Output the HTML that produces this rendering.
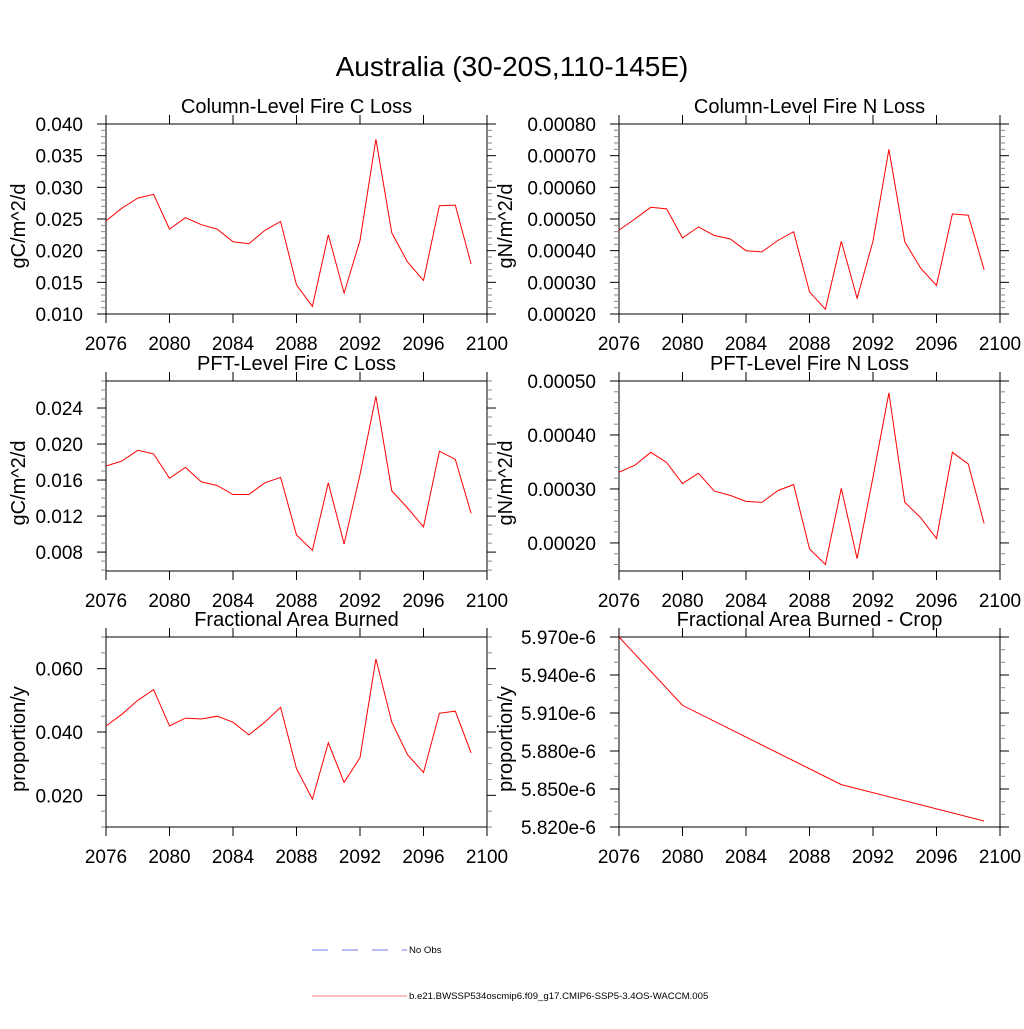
<!DOCTYPE html>
<html><head><meta charset="utf-8"><style>
body{margin:0;background:#fff;}
svg text{font-family:"Liberation Sans",sans-serif;fill:#000;}
</style></head><body>
<svg id="c" width="1024" height="1024" viewBox="0 0 1024 1024" xmlns="http://www.w3.org/2000/svg">
<text x="512" y="76" font-size="28" text-anchor="middle">Australia (30-20S,110-145E)</text>
<g>
<line x1="312" y1="950" x2="407" y2="950" stroke="#7a7aee" stroke-width="1" stroke-dasharray="16,14"/>
<text x="409" y="953" font-size="9.6">No Obs</text>
<line x1="312" y1="996" x2="407" y2="996" stroke="#f08080" stroke-width="1"/>
<text x="409" y="999" font-size="9.6">b.e21.BWSSP534oscmip6.f09_g17.CMIP6-SSP5-3.4OS-WACCM.005</text>
</g>
</svg>
<script>
const yearsAll = [2076,2077,2078,2079,2080,2081,2082,2083,2084,2085,2086,2087,2088,2089,2090,2091,2092,2093,2094,2095,2096,2097,2098,2099];
const colC = [0.0247,0.0267,0.0283,0.0289,0.0234,0.0252,0.0241,0.0234,0.0214,0.0211,0.0232,0.0246,0.0146,0.0112,0.0225,0.0133,0.0216,0.0376,0.0228,0.0182,0.0153,0.0271,0.0272,0.0179];
const colN = [0.000465,0.0005,0.000537,0.000532,0.00044,0.000475,0.000448,0.000437,0.0004,0.000396,0.000432,0.00046,0.00027,0.000215,0.00043,0.00025,0.00043,0.00072,0.000428,0.000345,0.00029,0.000516,0.000512,0.00034];
const pftC = [0.01756,0.0181,0.0193,0.0189,0.0162,0.0174,0.0158,0.0154,0.0144,0.0144,0.0157,0.0163,0.0099,0.0082,0.0157,0.0089,0.0166,0.0253,0.0148,0.0129,0.0108,0.0192,0.0183,0.0123];
const pftN = [0.000331,0.000344,0.000368,0.000349,0.00031,0.000329,0.000296,0.000288,0.000277,0.000275,0.000297,0.000308,0.000189,0.00016,0.000301,0.000171,0.000322,0.000478,0.000275,0.000247,0.000208,0.000368,0.000346,0.000236];
const fab = [0.0419,0.0456,0.050,0.0534,0.0419,0.0444,0.0441,0.045,0.0431,0.0391,0.0431,0.0478,0.0284,0.0188,0.0366,0.0241,0.0319,0.0631,0.0431,0.0328,0.0272,0.0459,0.0466,0.0334];
const cropYears = [2076,2080,2090,2099];
const cropVals = [5.970e-6,5.916e-6,5.8535e-6,5.8247e-6];
const xTicks = [2076,2080,2084,2088,2092,2096,2100];

const panels = [
 {name:'column-fire-c',title:'Column-Level Fire C Loss',yl:'gC/m^2/d',x:106,y:124,xs:yearsAll,ys:colC,min:0.010,max:0.040,maj:0.005,mn:0.001,fmt:v=>v.toFixed(3)},
 {name:'column-fire-n',title:'Column-Level Fire N Loss',yl:'gN/m^2/d',x:619,y:124,xs:yearsAll,ys:colN,min:0.0002,max:0.0008,maj:0.0001,mn:0.00002,fmt:v=>v.toFixed(5)},
 {name:'pft-fire-c',title:'PFT-Level Fire C Loss',yl:'gC/m^2/d',x:106,y:381,xs:yearsAll,ys:pftC,min:0.0059,max:0.027,maj:0.004,mn:0.001,t0:0.008,fmt:v=>v.toFixed(3)},
 {name:'pft-fire-n',title:'PFT-Level Fire N Loss',yl:'gN/m^2/d',x:619,y:381,xs:yearsAll,ys:pftN,min:0.000148,max:0.0005,maj:0.0001,mn:0.00002,t0:0.0002,fmt:v=>v.toFixed(5)},
 {name:'fractional-area-burned',title:'Fractional Area Burned',yl:'proportion/y',x:106,y:637,xs:yearsAll,ys:fab,min:0.010,max:0.070,maj:0.02,mn:0.005,t0:0.02,fmt:v=>v.toFixed(3)},
 {name:'fractional-area-burned-crop',title:'Fractional Area Burned - Crop',yl:'proportion/y',x:619,y:637,xs:cropYears,ys:cropVals,min:5.82e-6,max:5.97e-6,maj:0.03e-6,mn:0.01e-6,fmt:v=>(v*1e6).toFixed(3)+'e-6'}
];
const W=381,H=190,NS='http://www.w3.org/2000/svg';
const svg=document.getElementById('c');
function mk(tag,at,parent){const e=document.createElementNS(NS,tag);for(const k in at)e.setAttribute(k,at[k]);parent.appendChild(e);return e;}
panels.forEach(p=>{
 const g=mk('g',{},svg);
 
 
 const sx=v=>p.x+(v-2076)/(2100-2076)*W;
 const sy=v=>p.y+H-(v-p.min)/(p.max-p.min)*H;
 const t=mk('text',{x:p.x+W/2,y:p.y-11,'font-size':20,'text-anchor':'middle'},g);t.textContent=p.title;
 
 
 const fr=mk('rect',{x:p.x,y:p.y,width:W,height:H,fill:'none',stroke:'#000','stroke-width':1},g);
 
 
 const t0=p.t0!==undefined?p.t0:p.min;
 const start=Math.ceil((p.min-1e-12)/p.mn)*p.mn;
 for(let v=start; v<=p.max+p.mn*0.01; v+=p.mn){
  const k=Math.round((v-t0)/p.maj*1000)/1000; const major=Math.abs(k-Math.round(k))<0.01;
  const yy=sy(v); const len=major?9:5;
  mk('line',{x1:p.x-len,y1:yy,x2:p.x,y2:yy,stroke:major?'#000':'#888','stroke-width':1},g);
  mk('line',{x1:p.x+W,y1:yy,x2:p.x+W+len,y2:yy,stroke:major?'#000':'#888','stroke-width':1},g);
  if(major){const tl=mk('text',{x:p.x-23,y:yy+7,'font-size':19,'text-anchor':'end'},g);tl.textContent=p.fmt(v);
   
   }
 }
 xTicks.forEach(xv=>{
  const xx=sx(xv);
  mk('line',{x1:xx,y1:p.y+H,x2:xx,y2:p.y+H+9,stroke:'#000'},g);
  mk('line',{x1:xx,y1:p.y-9,x2:xx,y2:p.y,stroke:'#000'},g);
  const tl=mk('text',{x:xx,y:p.y+H+36,'font-size':19,'text-anchor':'middle'},g);tl.textContent=xv;
  
  
 });
 const ax=p.x<300?18:505;
 const yt=mk('text',{x:ax,y:p.y+H/2,'font-size':20,'text-anchor':'middle',transform:`rotate(-90 ${ax+7} ${p.y+H/2})`},g);yt.textContent=p.yl;
 
 
 const pts=p.xs.map((x,i)=>sx(x).toFixed(1)+','+sy(p.ys[i]).toFixed(1)).join(' ');
 const pl=mk('polyline',{points:pts,fill:'none',stroke:'#ff0000','stroke-width':1},g);
 
 
});
</script>
</body></html>
